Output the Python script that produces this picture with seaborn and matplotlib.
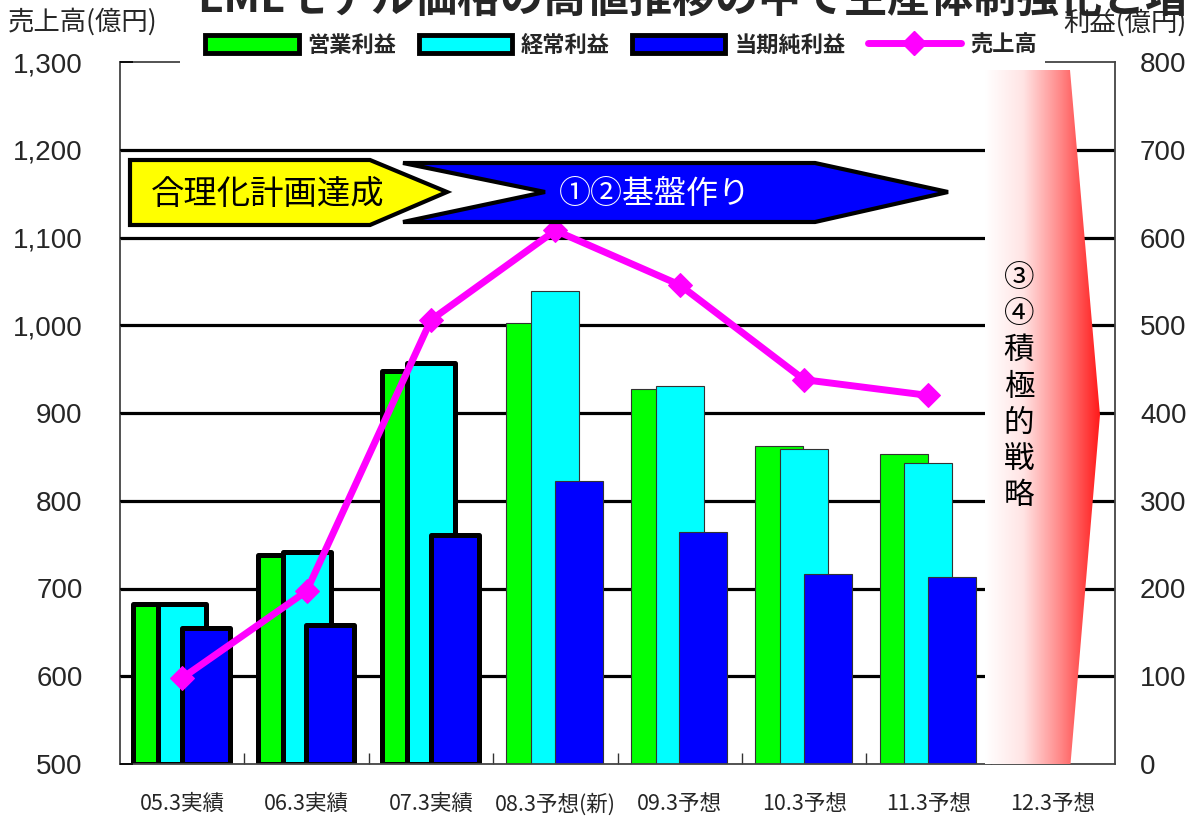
import numpy as np
import matplotlib
matplotlib.use('Agg')
import matplotlib.pyplot as plt
import seaborn as sns
from matplotlib.patches import Polygon, Patch, Rectangle
from matplotlib.lines import Line2D
from matplotlib.colors import LinearSegmentedColormap

# ---------------- data ----------------
categories = ['05.3実績', '06.3実績', '07.3実績', '08.3予想(新)', '09.3予想',
              '10.3予想', '11.3予想', '12.3予想']
operating_profit = [182, 238, 448, 503, 427, 362, 353]   # 営業利益 (right axis)
ordinary_profit = [182, 242, 457, 539, 431, 359, 343]    # 経常利益 (right axis)
net_profit = [155, 158, 261, 322, 264, 217, 213]         # 当期純利益 (right axis)
sales = [598, 697, 1006, 1108, 1046, 938, 920]           # 売上高 (left axis)
left_ticks = [500, 600, 700, 800, 900, 1000, 1100, 1200, 1300]
right_ticks = [0, 100, 200, 300, 400, 500, 600, 700, 800]
series_names = ['営業利益', '経常利益', '当期純利益', '売上高']
title_text = 'EMLモデル価格の高値推移の中で生産体制強化と増益'
left_label = '売上高(億円)'
right_label = '利益(億円)'
arrow1_text = '合理化計画達成'
arrow2_text = '①②基盤作り'
arrow3_text = '③④積極的戦略'

# ---------------- style ----------------
sns.set_theme(style='white')
plt.rcParams['font.family'] = ['Noto Sans CJK JP', 'DejaVu Sans']

W, H = 1188, 817
fig = plt.figure(figsize=(W / 100, H / 100), dpi=100)
L, R, T, B = 120, 1115, 62, 764
ax = fig.add_axes([L / W, 1 - B / H, (R - L) / W, (B - T) / H])
ax_s = ax.twinx()

GREEN, CYAN, BLUE, MAG = '#00FF00', '#00FFFF', '#0000FF', '#FF00FF'

# gridlines (behind bars)
for t in right_ticks[1:-1]:
    ax.axhline(t, color='black', lw=2.3, zorder=0)

# bars (overlapping clustered)
x_idx = np.arange(len(operating_profit))
for vals, color, off in [(operating_profit, GREEN, -0.2),
                         (ordinary_profit, CYAN, 0.0),
                         (net_profit, BLUE, 0.19)]:
    n0 = len(ax.patches)
    sns.barplot(x=x_idx + off, y=vals, native_scale=True, orient='x', width=0.385,
                color=color, saturation=1, errorbar=None, ax=ax,
                edgecolor='#333333', linewidth=0.8, zorder=2)
    for i, p in enumerate(ax.patches[n0:]):
        if i < 3:
            p.set_linewidth(3.6)
            p.set_edgecolor('black')
            p.set_joinstyle('round')

# sales line
sns.lineplot(x=x_idx, y=sales, ax=ax_s, color=MAG, lw=5, marker='D', markersize=12,
             markeredgecolor=MAG, zorder=5)


def px2data(px, py):
    xd = (px - L) / (R - L) * len(categories) - 0.5
    yd = left_ticks[0] + (B - py) / (B - T) * (left_ticks[-1] - left_ticks[0])
    return (xd, yd)


# yellow arrow
ypts = [px2data(*p) for p in [(130, 160), (370, 160), (447, 192), (370, 225), (130, 225)]]
ax_s.add_patch(Polygon(ypts, closed=True, facecolor='#FFFF00', edgecolor='black',
                       lw=3, joinstyle='miter', zorder=6))
ax_s.text(*px2data(268, 194), arrow1_text, fontsize=24, ha='center', va='center',
          color='black', zorder=7)

# blue chevron
bpts = [px2data(*p) for p in [(403, 163), (815, 163), (948, 192), (815, 222), (403, 222), (545, 192)]]
ax_s.add_patch(Polygon(bpts, closed=True, facecolor='#0000FF', edgecolor='black',
                       lw=3, joinstyle='miter', zorder=6))
ax_s.text(*px2data(655, 194), arrow2_text, fontsize=23, ha='center', va='center',
          color='white', zorder=7)

# red gradient arrow
rpts = [px2data(*p) for p in [(985, 70), (1070, 70), (1100, 415), (1070, 770), (985, 770)]]
rpoly = Polygon(rpts, closed=True, facecolor='none', edgecolor='none',
                transform=ax_s.transData)
ax_s.add_patch(rpoly)
cmap = LinearSegmentedColormap.from_list('wr', ['#FFFFFF', '#FFE4E4', '#FF8585', '#FF1A1A'])
grad = np.linspace(0, 1, 256).reshape(1, -1)
x0, y0 = px2data(985, 770)
x1, y1 = px2data(1100, 70)
im = ax_s.imshow(grad, extent=[x0, x1, y0, y1], aspect='auto', cmap=cmap,
                 zorder=4, interpolation='bilinear')
im.set_clip_path(rpoly)
ax_s.text(*px2data(1019, 387), '\n'.join(list(arrow3_text)), fontsize=22,
          ha='center', va='center', linespacing=1.22, color='black', zorder=7)

ax.set_xlim(-0.5, len(categories) - 0.5)
ax_s.set_xlim(-0.5, len(categories) - 0.5)
ax.set_ylim(right_ticks[0], right_ticks[-1])
ax_s.set_ylim(left_ticks[0], left_ticks[-1])

# axes / ticks
ax.yaxis.tick_right()
ax_s.yaxis.tick_left()
ax.set_yticks(right_ticks)
ax.set_yticklabels([str(v) for v in right_ticks], fontsize=20, family='Liberation Sans')
ax_s.set_yticks(left_ticks)
ax_s.set_yticklabels([f'{v:,}' for v in left_ticks], fontsize=20, family='Liberation Sans')
ax.tick_params(axis='y', which='both', right=True, left=False, direction='in', length=0, pad=18)
ax_s.tick_params(axis='y', which='both', left=True, right=False, direction='in', length=9,
                 width=1.2, color='black', pad=27)

ax.set_xticks(range(len(categories)))
ax.set_xticklabels(categories, fontsize=15.5)
ax.set_xticks(np.arange(0.5, len(categories) - 0.5, 1), minor=True)
ax.tick_params(axis='x', which='major', length=0, pad=21, bottom=True)
ax.tick_params(axis='x', which='minor', length=8, width=1, direction='in', bottom=True, color='#333333')

for a in (ax, ax_s):
    a.set_xlabel('')
    a.set_ylabel('')
for s in ax.spines.values():
    s.set_color('#444444')
    s.set_linewidth(1.3)
for s in ax_s.spines.values():
    s.set_visible(False)

# texts
fig.text(197 / W, 1 + 1 / H, title_text, fontsize=31, fontweight='bold',
         ha='left', va='center')
fig.text(8 / W, 1 - 22 / H, left_label, fontsize=19, ha='left', va='center')
fig.text(1187 / W, 1 - 23 / H, right_label, fontsize=19, ha='right', va='center')

# white band behind legend (hides top border there, as in the original)
fig.add_artist(Rectangle((180 / W, 1 - 67 / H), (1045 - 180) / W, 37 / H,
                         transform=fig.transFigure, facecolor='white',
                         edgecolor='none', zorder=4))

# legend
handles = [Patch(facecolor=GREEN, edgecolor='black', linewidth=3.5),
           Patch(facecolor=CYAN, edgecolor='black', linewidth=3.5),
           Patch(facecolor=BLUE, edgecolor='black', linewidth=3.5),
           Line2D([], [], color=MAG, lw=5, marker='D', markersize=12)]
leg = fig.legend(handles, series_names, loc='center', bbox_to_anchor=(621 / W, 1 - 45 / H),
                 ncol=4, frameon=False,
                 prop={'size': 16, 'weight': 'bold', 'style': 'italic'},
                 handlelength=4.2, handleheight=0.9, columnspacing=1.0,
                 handletextpad=0.4, borderpad=0.2)
leg.set_zorder(6)

fig.savefig('out.png', dpi=100)
